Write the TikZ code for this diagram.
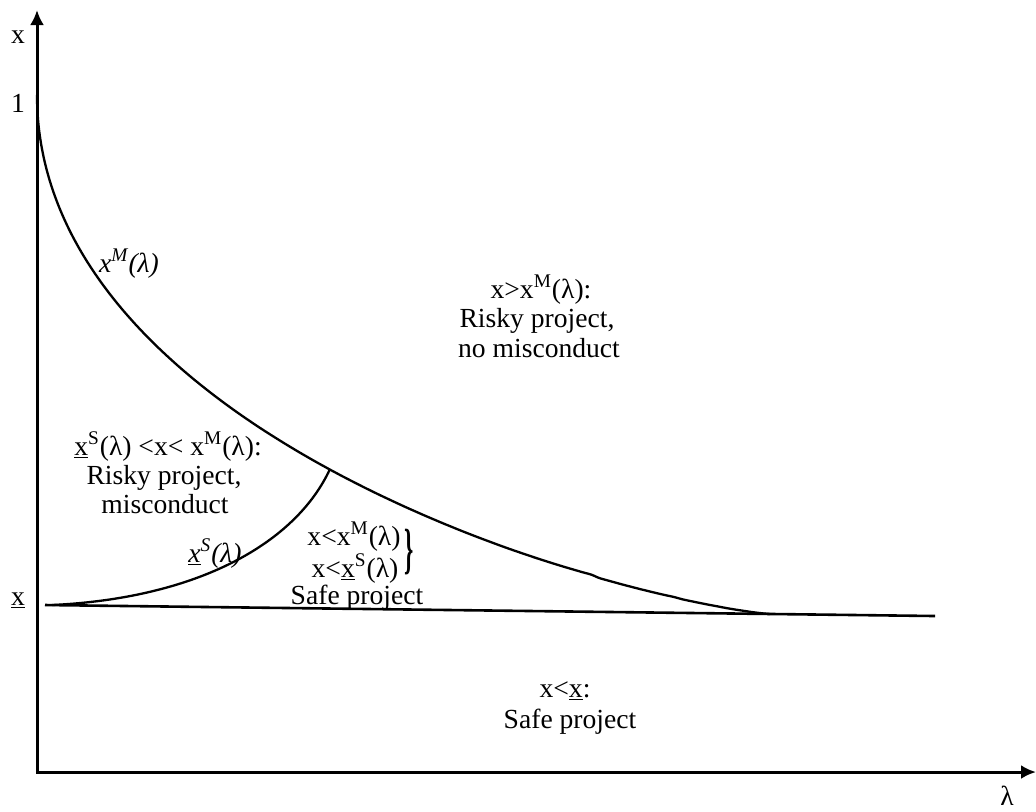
\documentclass[tikz,border=0pt]{standalone}
\usepackage{fontspec}
\setmainfont{Liberation Serif}
\usetikzlibrary{arrows.meta}
\begin{document}
\begin{tikzpicture}[x=0.5pt,y=-0.5pt,
  axis/.style={line width=1.5pt,{Latex[length=7.5pt,width=7pt]}-{Latex[length=7.5pt,width=7pt]}},
  curve/.style={line width=1.15pt},
  lbl/.style={font=\fontsize{13.8}{14.75}\selectfont, inner sep=0pt, anchor=base},
]
\useasboundingbox (0,0) rectangle (1036,811);
% axes
\coordinate (ytop) at (37,10);
\coordinate (O) at (37,772);
\coordinate (xend) at (1036,772);
\draw[axis] (ytop) -- (O) -- (xend);
% lower threshold line
\coordinate (hl) at (45,605);
\coordinate (hr) at (935,616);
\draw[line width=1.3pt] (hl) -- (hr);
% x^M curve
\coordinate (mend) at (770,614);
\coordinate (meet) at ({37+733*0.632*0.632},{605+(37+733*0.632*0.632-45)*0.01236-510*pow(1-0.632,1.3)});
\draw[curve] plot[domain=0:0.995, samples=160, smooth]
  ({37+733*\x*\x},{605+(37+733*\x*\x-45)*0.01236-510*pow(1-\x,1.3)}) -- (mend);
% x^S curve
\coordinate (sstart) at (52,605);
\draw[curve] (sstart) .. controls (200,598) and (296,542) .. (meet);
% axis labels
\node[lbl] (lx) at (18,43) {x};
\node[lbl] (l1) at (18,112) {1};
\node[lbl] (lxl) at (18,605) {\underline{x}};
\node[lbl] (llam) at (1007,805) {λ};
% curve labels
\node[lbl] (cM) at (129,272) {\textit{x\textsuperscript{M}(λ)}};
\node[lbl] (cS) at (215,562) {\textit{\underline{x}\textsuperscript{S}(λ)}};
% region: above x^M
\node[lbl] (a1) at (541,298) {x>x\textsuperscript{M}(λ):};
\node[lbl] (a2) at (537,327) {Risky project,};
\node[lbl] (a3) at (539,357) {no misconduct};
% region: between
\node[lbl] (b1) at (168,455) {\underline{x}\textsuperscript{S}(λ) <x< x\textsuperscript{M}(λ):};
\node[lbl] (b2) at (164,484) {Risky project,};
\node[lbl] (b3) at (165,513) {misconduct};
% region: below both
\node[lbl] (c1) at (354,545) {x<x\textsuperscript{M}(λ)};
\node[lbl] (c2) at (355,577) {x<\underline{x}\textsuperscript{S}(λ)};
\node[lbl, anchor=center] (cb) at (409,552) {\scalebox{0.85}[2.0]{\textbf{\}}}};
\node[lbl] (c3) at (357,604) {Safe project};
% region: below x
\node[lbl] (d1) at (565,697) {x<\underline{x}:};
\node[lbl] (d2) at (570,728) {Safe project};
\end{tikzpicture}
\end{document}
